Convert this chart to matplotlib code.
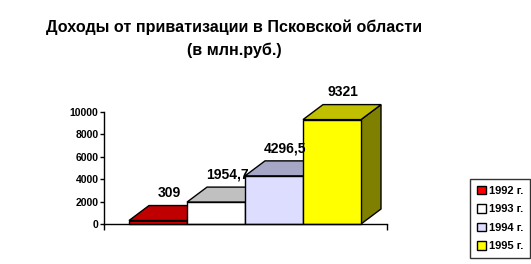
import matplotlib
matplotlib.use("Agg")
import matplotlib.pyplot as plt
from matplotlib.patches import Polygon, Patch

plt.rcParams['font.family'] = ['Liberation Sans', 'DejaVu Sans']

years = ["1992 г.", "1993 г.", "1994 г.", "1995 г."]
values = [309, 1954.7, 4296.5, 9321]
value_labels = ["309", "1954,7", "4296,5", "9321"]
yticks = [0, 2000, 4000, 6000, 8000, 10000]

front_colors = ["#FF0000", "#FFFFFF", "#DDDDFF", "#FFFF00"]
top_colors = ["#C00000", "#C0C0C0", "#A6A6C6", "#C0C000"]
side_colors = ["#800000", "#808080", "#7070A0", "#808000"]

W, H = 531, 264
fig = plt.figure(figsize=(W / 100, H / 100), dpi=100)
ax_l, ax_r, ax_b, ax_t = 104, 387, 224, 112
ax = fig.add_axes([ax_l / W, 1 - ax_b / H, (ax_r - ax_l) / W, (ax_b - ax_t) / H])

bar_px = 58.0
xmin = -0.5 - 25 / bar_px
xmax = xmin + (ax_r - ax_l) / bar_px
ax.set_xlim(xmin, xmax)
ax.set_ylim(0, 10000)

px_per_unit_y = (ax_b - ax_t) / 10000
ddx = 20 / bar_px
ddy = 15 / px_per_unit_y

xs = list(range(len(values)))
for i, (x, v) in enumerate(zip(xs, values)):
    x0, x1 = x - 0.5, x + 0.5
    side = Polygon([(x1, 0), (x1 + ddx, ddy), (x1 + ddx, v + ddy), (x1, v)],
                   closed=True, facecolor=side_colors[i], edgecolor='black',
                   linewidth=1.0, clip_on=False, zorder=2 + i * 0.1)
    ax.add_patch(side)
    top = Polygon([(x0, v), (x1, v), (x1 + ddx, v + ddy), (x0 + ddx, v + ddy)],
                  closed=True, facecolor=top_colors[i], edgecolor='black',
                  linewidth=1.0, clip_on=False, zorder=2 + i * 0.1)
    ax.add_patch(top)
    ax.bar([x], [v], width=1.0, color=front_colors[i], edgecolor='black',
           linewidth=1.0, zorder=2.05 + i * 0.1, clip_on=False)

for x, v, t in zip(xs, values, value_labels):
    ax.text(x + 0.19, v + 2450, t, ha='center', va='center', fontsize=10,
            fontweight='bold', zorder=5, clip_on=False)

ax.spines['top'].set_visible(False)
ax.spines['right'].set_visible(False)
ax.spines['left'].set_bounds(0, 10000)
ax.spines['left'].set_linewidth(1.0)
ax.spines['bottom'].set_linewidth(1.0)
ax.set_yticks(yticks)
ax.set_yticklabels([str(t) for t in yticks], fontsize=7.5, fontweight='bold')
ax.tick_params(axis='y', direction='out', length=3, width=1, pad=1)
ax.set_xticks([xmin, xmax])
ax.set_xticklabels([])
ax.tick_params(axis='x', direction='out', length=4, width=1)
ax.patch.set_alpha(0)

fig.text(234 / W, 1 - 27 / H, "Доходы от приватизации в Псковской области",
         ha='center', va='center', fontsize=11.6, fontweight='bold')
fig.text(234 / W, 1 - 50 / H, "(в млн.руб.)",
         ha='center', va='center', fontsize=11.6, fontweight='bold')

handles = [Patch(facecolor=c, edgecolor='black', linewidth=1.0) for c in front_colors]
leg = fig.legend(handles, years, loc='lower right', bbox_to_anchor=(530 / W, 1 - 258 / H),
                 prop={'weight': 'bold', 'size': 8},
                 frameon=True, fancybox=False, edgecolor='black',
                 handlelength=0.8, handleheight=0.8, handletextpad=0.3,
                 borderpad=0.6, labelspacing=0.75, borderaxespad=0)
leg.get_frame().set_linewidth(1.0)

fig.savefig("out.png", dpi=100)
